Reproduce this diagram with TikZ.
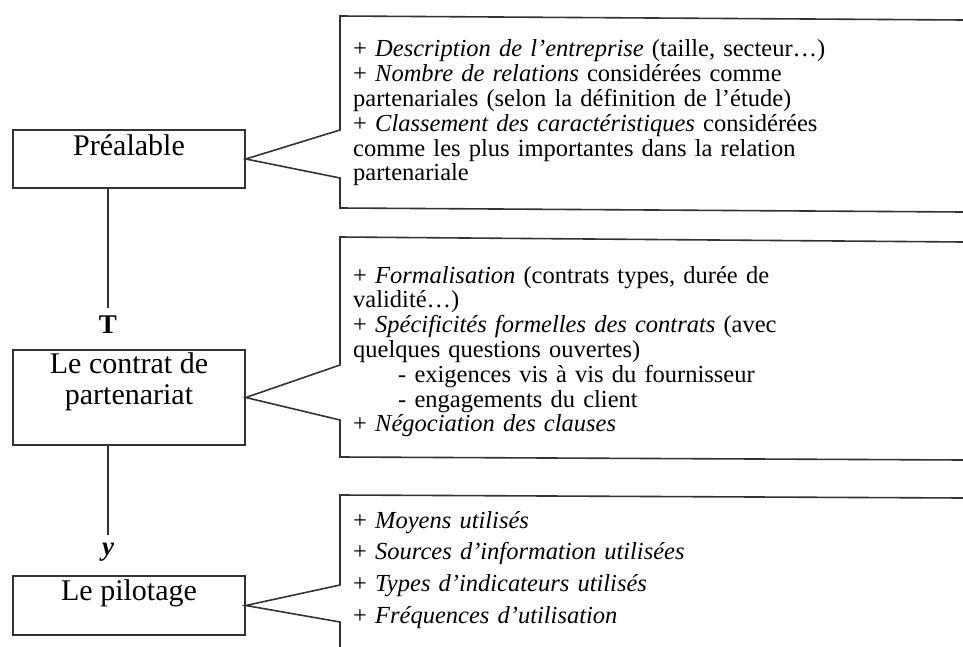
\documentclass[tikz,border=0pt]{standalone}
\usepackage{fontspec}
\setmainfont{Liberation Serif}
\usetikzlibrary{positioning}

\begin{document}
\begin{tikzpicture}[x=1pt,y=-1pt,
  mybox/.style={draw=black!80,line width=1.6pt,rectangle,minimum width=232pt,inner sep=0pt},
  mylabel/.style={align=center,inner sep=0pt,font=\fontsize{30}{31}\selectfont},
  mynote/.style={anchor=base west,text width=600pt,align=left,inner sep=0pt,
    font=\fontsize{24.5}{24.8}\selectfont},
  mytip/.style={inner sep=0pt,outer sep=8pt,font=\fontsize{27}{27}\selectfont\bfseries},
  myline/.style={draw=black!80,line width=1.6pt}]

  \useasboundingbox (0,0) rectangle (963,647);

  \node[mybox,minimum height=58pt] (pre) at (129,159) {};
  \node[mybox,minimum height=95pt] (contrat) at (129,397.5) {};
  \node[mybox,minimum height=59pt] (pilot) at (129,605.5) {};

  \node[mylabel,below=5pt of pre.north] (pretxt) {Préalable};
  \node[mylabel,below=3pt of contrat.north] (contrattxt) {Le contrat de\\partenariat};
  \node[mylabel,below=4pt of pilot.north] (pilottxt) {Le pilotage};

  \node[mytip] (t1) at (108,325) {T};
  \node[mytip,font=\fontsize{27}{27}\selectfont\bfseries\itshape] (t2) at (108,552) {y};

  \draw[myline] (t1 |- pre.south) -- (t1.north);
  \draw[myline] (t2 |- contrat.south) -- (t2.north);

  % callouts
  \draw[myline] (963,20) -- (340,16) -- (340,130) -- (pre.east)
    -- (340,178) -- (340,208) -- (963,212);
  \draw[myline] (963,242) -- (340,237) -- (340,365) -- (contrat.east)
    -- (340,420) -- (340,457) -- (963,460);
  \draw[myline] (963,498) -- (340,495) -- (340,585) -- (pilot.east)
    -- (340,622) -- (340,647);

  \node[mynote] (n1) at (353,57) {+ \textit{Description de l'entreprise} (taille, secteur\ldots)\\
    + \textit{Nombre de relations} considérées comme\\
    partenariales (selon la définition de l'étude)\\
    + \textit{Classement des caractéristiques} considérées\\
    comme les plus importantes dans la relation\\
    partenariale};
  \node[mynote] (n2) at (353,283) {+ \textit{Formalisation} (contrats types, durée de\\
    validité\ldots)\\
    + \textit{Spécificités formelles des contrats} (avec\\
    quelques questions ouvertes)\\
    \hspace*{45pt}- exigences vis à vis du fournisseur\\
    \hspace*{45pt}- engagements du client\\
    + \textit{Négociation des clauses}};
  \node[mynote,font=\fontsize{24.5}{31.7}\selectfont] (n3) at (353,528) {+ \textit{Moyens utilisés}\\
    + \textit{Sources d'information utilisées}\\
    + \textit{Types d'indicateurs utilisés}\\
    + \textit{Fréquences d'utilisation}};
\end{tikzpicture}
\end{document}
